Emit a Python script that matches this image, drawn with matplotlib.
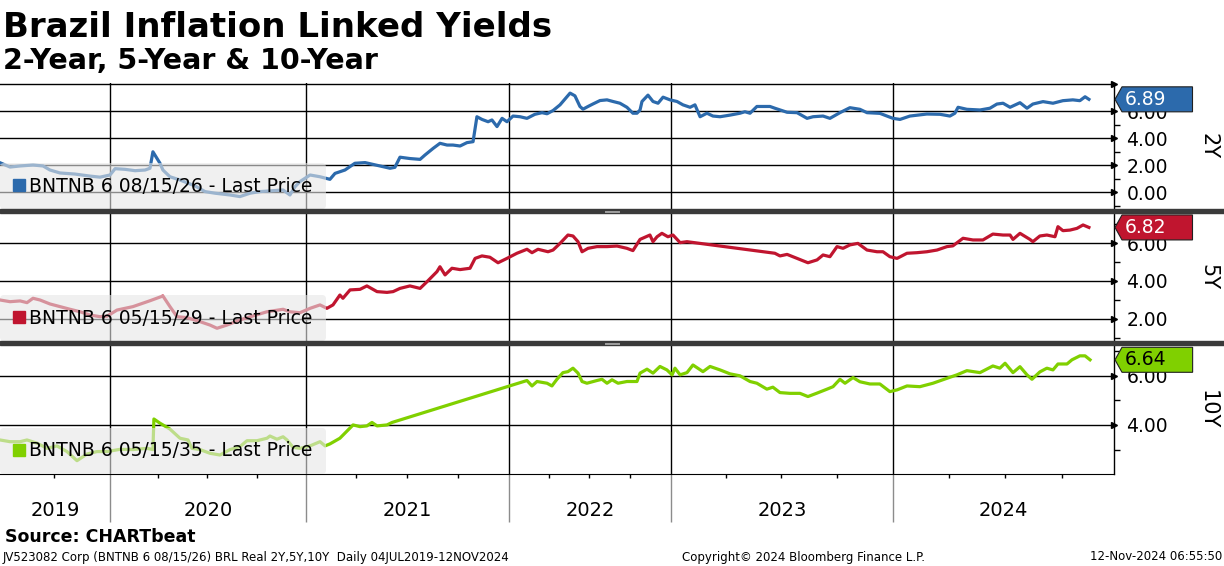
import numpy as np
import matplotlib
matplotlib.use("Agg")
import matplotlib.pyplot as plt
from matplotlib.path import Path
from matplotlib.lines import Line2D
from matplotlib.patches import Rectangle
from matplotlib.ticker import FixedLocator, FuncFormatter

# ---------------- data (decimal years, yields %) ----------------
y2_dates = [2019.507, 2019.552, 2019.597, 2019.655, 2019.700, 2019.731, 2019.776, 2019.843, 2019.910, 2019.955,
            2020.000, 2020.026, 2020.077, 2020.128, 2020.179, 2020.204, 2020.219, 2020.240, 2020.255, 2020.270,
            2020.306, 2020.357, 2020.434, 2020.485, 2020.536, 2020.612, 2020.663, 2020.714, 2020.765, 2020.816,
            2020.883, 2020.918, 2020.944, 2020.969, 2021.020, 2021.069, 2021.118, 2021.143, 2021.192, 2021.241,
            2021.291, 2021.365, 2021.414, 2021.438, 2021.463, 2021.512, 2021.562, 2021.586, 2021.626, 2021.660,
            2021.695, 2021.724, 2021.759, 2021.793, 2021.823, 2021.842, 2021.867, 2021.897, 2021.916, 2021.941,
            2021.966, 2021.990, 2022.025, 2022.068, 2022.111, 2022.160, 2022.204, 2022.235, 2022.272, 2022.315,
            2022.377, 2022.407, 2022.438, 2022.457, 2022.488, 2022.519, 2022.562, 2022.605, 2022.642, 2022.685,
            2022.728, 2022.765, 2022.790, 2022.809, 2022.821, 2022.858, 2022.889, 2022.920, 2022.951, 2022.994,
            2023.027, 2023.054, 2023.086, 2023.108, 2023.131, 2023.162, 2023.189, 2023.221, 2023.266, 2023.311,
            2023.333, 2023.356, 2023.387, 2023.446, 2023.468, 2023.523, 2023.568, 2023.613, 2023.640, 2023.685,
            2023.716, 2023.761, 2023.806, 2023.851, 2023.883, 2023.941, 2024.000, 2024.031, 2024.075, 2024.150,
            2024.208, 2024.252, 2024.274, 2024.288, 2024.327, 2024.385, 2024.429, 2024.460, 2024.487, 2024.518,
            2024.562, 2024.593, 2024.619, 2024.664, 2024.708, 2024.752, 2024.796, 2024.827, 2024.850, 2024.867]
y2_vals = [2.19, 1.87, 1.95, 2.02, 1.95, 1.65, 1.43, 1.35, 1.20, 1.12,
           1.28, 1.75, 1.70, 1.60, 1.65, 1.78, 3.00, 2.50, 2.15, 1.65,
           1.15, 0.91, 0.47, 0.05, -0.07, -0.20, -0.32, -0.07, 0.05, 0.10,
           0.17, -0.20, 0.41, 0.79, 1.28, 1.15, 0.96, 1.40, 1.65, 2.15,
           2.20, 1.95, 1.78, 1.85, 2.60, 2.50, 2.44, 2.76, 3.25, 3.63,
           3.50, 3.50, 3.43, 3.68, 3.75, 5.60, 5.40, 5.23, 5.36, 4.87,
           5.48, 5.23, 5.65, 5.60, 5.48, 5.78, 5.90, 5.82, 6.06, 6.48,
           7.35, 7.15, 6.36, 6.16, 6.36, 6.55, 6.80, 6.85, 6.73, 6.60,
           6.30, 5.86, 5.86, 6.10, 6.73, 7.20, 6.73, 6.60, 7.05, 6.85,
           6.73, 6.48, 6.30, 6.48, 5.60, 5.86, 5.65, 5.60, 5.72, 5.86,
           5.97, 5.86, 6.36, 6.36, 6.23, 5.93, 5.90, 5.48, 5.60, 5.65,
           5.48, 5.90, 6.27, 6.15, 5.90, 5.85, 5.48, 5.40, 5.65, 5.80,
           5.78, 5.65, 5.86, 6.30, 6.15, 6.10, 6.23, 6.54, 6.60, 6.30,
           6.64, 6.23, 6.54, 6.72, 6.60, 6.79, 6.85, 6.79, 7.08, 6.89]

y5_dates = [2019.507, 2019.552, 2019.597, 2019.628, 2019.655, 2019.686, 2019.731, 2019.776, 2019.821, 2019.866,
            2019.910, 2019.955, 2019.987, 2020.036, 2020.117, 2020.204, 2020.270, 2020.306, 2020.342, 2020.393,
            2020.459, 2020.510, 2020.546, 2020.597, 2020.663, 2020.730, 2020.801, 2020.883, 2020.918, 2020.969,
            2021.020, 2021.069, 2021.103, 2021.133, 2021.167, 2021.182, 2021.217, 2021.266, 2021.300, 2021.350,
            2021.399, 2021.429, 2021.463, 2021.512, 2021.562, 2021.596, 2021.645, 2021.660, 2021.685, 2021.719,
            2021.759, 2021.808, 2021.833, 2021.867, 2021.906, 2021.946, 2021.990, 2022.049, 2022.111, 2022.142,
            2022.179, 2022.241, 2022.272, 2022.315, 2022.364, 2022.395, 2022.426, 2022.451, 2022.488, 2022.543,
            2022.605, 2022.667, 2022.728, 2022.765, 2022.809, 2022.870, 2022.889, 2022.914, 2022.944, 2022.981,
            2023.009, 2023.041, 2023.072, 2023.468, 2023.491, 2023.523, 2023.568, 2023.617, 2023.658, 2023.685,
            2023.716, 2023.748, 2023.775, 2023.806, 2023.842, 2023.883, 2023.928, 2023.955, 2023.986, 2024.018,
            2024.062, 2024.106, 2024.150, 2024.195, 2024.239, 2024.265, 2024.310, 2024.354, 2024.398, 2024.442,
            2024.487, 2024.518, 2024.531, 2024.562, 2024.606, 2024.619, 2024.650, 2024.681, 2024.717, 2024.730,
            2024.752, 2024.783, 2024.814, 2024.841, 2024.867]
y5_vals = [3.00, 2.91, 2.95, 2.86, 3.09, 3.00, 2.79, 2.65, 2.51, 2.38,
           2.21, 2.12, 2.15, 2.47, 2.65, 2.96, 3.21, 2.65, 2.12, 2.07,
           1.86, 1.68, 1.51, 1.68, 1.95, 2.16, 2.38, 2.51, 2.38, 2.33,
           2.56, 2.74, 2.56, 2.74, 3.26, 3.09, 3.53, 3.56, 3.74, 3.44,
           3.40, 3.44, 3.61, 3.74, 3.61, 3.96, 4.49, 4.75, 4.32, 4.67,
           4.60, 4.67, 5.19, 5.32, 5.25, 4.96, 5.19, 5.46, 5.67, 5.49,
           5.67, 5.54, 5.63, 5.98, 6.42, 6.37, 6.07, 5.54, 5.72, 5.81,
           5.81, 5.84, 5.72, 5.60, 6.19, 6.42, 6.07, 6.33, 6.51, 6.33,
           6.42, 6.02, 6.07, 5.46, 5.32, 5.40, 5.19, 4.96, 5.11, 5.37,
           5.28, 5.81, 5.72, 5.90, 5.98, 5.63, 5.54, 5.54, 5.28, 5.19,
           5.46, 5.49, 5.54, 5.63, 5.81, 5.85, 6.25, 6.16, 6.16, 6.47,
           6.42, 6.42, 6.19, 6.51, 6.19, 6.07, 6.37, 6.42, 6.33, 6.86,
           6.65, 6.68, 6.77, 6.95, 6.82]

y10_dates = [2019.507, 2019.552, 2019.597, 2019.628, 2019.673, 2019.718, 2019.762, 2019.807, 2019.852, 2019.897,
             2019.942, 2019.987, 2020.051, 2020.117, 2020.189, 2020.219, 2020.224, 2020.255, 2020.306, 2020.357,
             2020.398, 2020.418, 2020.459, 2020.510, 2020.561, 2020.612, 2020.663, 2020.699, 2020.750, 2020.801,
             2020.816, 2020.852, 2020.883, 2020.903, 2020.934, 2020.969, 2021.020, 2021.069, 2021.094, 2021.118,
             2021.167, 2021.232, 2021.266, 2021.300, 2021.325, 2021.350, 2021.399, 2021.424, 2022.111, 2022.142,
             2022.173, 2022.235, 2022.265, 2022.296, 2022.333, 2022.364, 2022.395, 2022.426, 2022.451, 2022.481,
             2022.543, 2022.574, 2022.605, 2022.636, 2022.673, 2022.728, 2022.790, 2022.809, 2022.852, 2022.889,
             2022.932, 2022.975, 2023.005, 2023.018, 2023.041, 2023.072, 2023.099, 2023.144, 2023.176, 2023.221,
             2023.266, 2023.311, 2023.356, 2023.387, 2023.432, 2023.459, 2023.491, 2023.536, 2023.581, 2023.617,
             2023.658, 2023.703, 2023.730, 2023.761, 2023.784, 2023.820, 2023.851, 2023.896, 2023.941, 2023.986,
             2024.018, 2024.062, 2024.119, 2024.177, 2024.239, 2024.283, 2024.327, 2024.385, 2024.442, 2024.473,
             2024.496, 2024.531, 2024.562, 2024.593, 2024.615, 2024.650, 2024.681, 2024.708, 2024.730, 2024.770,
             2024.792, 2024.827, 2024.850, 2024.872]
y10_vals = [3.39, 3.32, 3.32, 3.39, 3.26, 3.05, 3.15, 2.92, 2.55, 2.82,
            2.92, 2.92, 3.01, 3.00, 3.05, 3.00, 4.24, 4.07, 3.83, 3.46,
            3.39, 3.05, 3.00, 2.85, 2.78, 3.00, 3.12, 3.36, 3.36, 3.46,
            3.55, 3.42, 3.52, 3.39, 3.09, 3.05, 3.15, 3.32, 3.15, 3.23,
            3.46, 4.00, 3.93, 3.96, 4.10, 3.96, 4.00, 4.10, 5.80, 5.58,
            5.76, 5.69, 5.58, 5.85, 6.12, 6.16, 6.30, 6.10, 5.76, 5.69,
            5.80, 5.85, 5.69, 5.83, 5.69, 5.76, 5.76, 6.10, 6.26, 6.10,
            6.37, 6.23, 6.03, 6.30, 6.03, 6.12, 6.43, 6.16, 6.37, 6.23,
            6.07, 5.99, 5.76, 5.69, 5.45, 5.53, 5.31, 5.28, 5.28, 5.15,
            5.29, 5.45, 5.55, 5.85, 5.69, 5.92, 5.75, 5.66, 5.66, 5.35,
            5.42, 5.58, 5.55, 5.69, 5.89, 6.03, 6.20, 6.12, 6.39, 6.30,
            6.50, 6.12, 6.36, 6.03, 5.85, 6.15, 6.30, 6.23, 6.47, 6.47,
            6.64, 6.80, 6.80, 6.64]

series_labels = ["BNTNB 6 08/15/26 - Last Price",
                 "BNTNB 6 05/15/29 - Last Price",
                 "BNTNB 6 05/15/35 - Last Price"]
panel_names = ["2Y", "5Y", "10Y"]
last_values = [6.89, 6.82, 6.64]
year_starts = [2020, 2021, 2022, 2023, 2024]
year_labels = ["2019", "2020", "2021", "2022", "2023", "2024"]
x_start, x_end = 2019.507, 2024.978

# ---------------- style ----------------
plt.rcParams["font.family"] = ["DejaVu Sans"]
colors = ["#2c6aac", "#c0152f", "#80d000"]
box_text_colors = ["white", "white", "black"]

W, H = 1224, 566
fig = plt.figure(figsize=(W / 100, H / 100), dpi=100)
fig.patch.set_facecolor("white")

# Bloomberg-like compressed calendar x-axis (piecewise linear)
BRK_T = [2018.0, 2019.507, 2020.0, 2021.0, 2022.0, 2023.0, 2024.0, 2026.0]
BRK_P = [-332.0, 0.0, 110.0, 306.0, 509.0, 671.0, 893.0, 1345.0]


def fwd(t):
    return np.interp(t, BRK_T, BRK_P)


def inv(p):
    return np.interp(p, BRK_P, BRK_T)


def pennant(x0, y0, width, height, mutation_size):
    yc = y0 + height / 2.0
    hh = 12.5
    verts = [(x0 - 10, yc), (x0 - 3, yc + hh), (x0 + width + 26, yc + hh),
             (x0 + width + 26, yc - hh), (x0 - 3, yc - hh), (x0 - 10, yc)]
    codes = [Path.MOVETO] + [Path.LINETO] * 4 + [Path.CLOSEPOLY]
    return Path(verts, codes)


panels = [
    dict(top=83, bot=209, ylim=(-1.24, 8.1), maj=[0, 2, 4, 6, 8], mnr=[-1, 1, 3, 5, 7], hide=[8]),
    dict(top=213, bot=341, ylim=(0.84, 7.58), maj=[2, 4, 6], mnr=[1, 3, 5, 7], hide=[]),
    dict(top=345, bot=474, ylim=(2.01, 7.24), maj=[4, 6], mnr=[3, 5, 7], hide=[]),
]
all_dates = [y2_dates, y5_dates, y10_dates]
all_vals = [y2_vals, y5_vals, y10_vals]

axes = []
for i, p in enumerate(panels):
    ax = fig.add_axes([0, 1 - p["bot"] / H, 1114 / W, (p["bot"] - p["top"]) / H])
    axes.append(ax)
    ax.set_xscale("function", functions=(fwd, inv))
    ax.set_xlim(x_start, x_end)
    ax.set_ylim(*p["ylim"])
    ax.plot(all_dates[i], all_vals[i], color=colors[i], lw=2.3, zorder=3,
            solid_joinstyle="round")
    ax.set_axisbelow(True)
    for s in ["top", "left", "bottom"]:
        ax.spines[s].set_visible(False)
    ax.spines["right"].set_color("black")
    ax.spines["right"].set_linewidth(1.0)

    ax.xaxis.set_major_locator(FixedLocator(year_starts))
    ax.yaxis.set_major_locator(FixedLocator(p["maj"]))
    ax.yaxis.set_minor_locator(FixedLocator(p["mnr"]))
    hide = p["hide"]
    ax.yaxis.set_major_formatter(FuncFormatter(
        lambda v, pos, hide=hide: "" if any(abs(v - h) < 1e-6 for h in hide) else f"{v:.2f}"))
    ax.yaxis.tick_right()
    ax.tick_params(axis="y", which="major", length=0, pad=9, labelsize=13.5)
    ax.tick_params(axis="y", which="minor", length=4, width=1, color="black", direction="out")
    ax.grid(True, which="major", axis="both", color="black", lw=1.0)

    # arrow heads at the gridline ends
    ax.plot(np.ones(len(p["maj"])), p["maj"], ls="none", marker=">", ms=5, color="black",
            transform=ax.get_yaxis_transform(), clip_on=False, zorder=4)

    # panel name
    ax.text(1208 / 1114, 0.5, panel_names[i], transform=ax.transAxes, rotation=270,
            ha="center", va="center", fontsize=15)

    # legend
    h = Line2D([], [], marker="s", ls="none", color=colors[i], markersize=8)
    ax.legend([h], [series_labels[i]], loc="lower left", bbox_to_anchor=(0, 0),
              borderaxespad=0, frameon=True, fancybox=True, framealpha=0.6,
              facecolor="#e6e6e6", edgecolor="none", fontsize=13.5, borderpad=0.72,
              handletextpad=0.23, handlelength=0.6)

    # last value pennant
    ax.annotate(f"{last_values[i]:.2f}", xy=(1, last_values[i]),
                xycoords=("axes fraction", "data"), xytext=(11, 0), textcoords="offset pixels",
                ha="left", va="center", fontsize=13.5, color=box_text_colors[i],
                bbox=dict(boxstyle=pennant, fc=colors[i], ec="#202020", lw=0.8),
                annotation_clip=False, zorder=6)

    if i < 2:
        ax.tick_params(axis="x", which="both", length=0, labelbottom=False)

# bottom axis details
ax = axes[2]
ax.spines["bottom"].set_visible(True)
ax.spines["bottom"].set_color("black")
quarters = [y + q for y in range(2019, 2025) for q in (0.247, 0.496, 0.748)]
quarters = [q for q in quarters if x_start < q < x_end]
ax.xaxis.set_minor_locator(FixedLocator(quarters))
ax.tick_params(axis="x", which="major", length=34.5, width=1, color="#8c8c8c",
               direction="out", labelbottom=False)
ax.tick_params(axis="x", which="minor", length=3, width=1, color="black", direction="out")
bounds = [x_start] + year_starts + [x_end]
for k, lab in enumerate(year_labels):
    mid = inv((fwd(bounds[k]) + fwd(bounds[k + 1])) / 2.0)
    ax.annotate(lab, xy=(mid, 0), xycoords=("data", "axes fraction"), xytext=(0, -37),
                textcoords="offset pixels", ha="center", va="center", fontsize=14,
                annotation_clip=False)

# panel separators
for top in (209, 341):
    fig.add_artist(Rectangle((0, 1 - (top + 4) / H), 1, 4 / H, transform=fig.transFigure,
                             color="#3a3a3a", zorder=10))
    for dy in (1.7, 3.3):
        fig.add_artist(Line2D([605 / W, 619 / W], [1 - (top + dy) / H] * 2,
                              transform=fig.transFigure, color="#a0a0a0", lw=0.7, zorder=11))

# titles and footer
fig.text(3 / W, 1 - 37 / H, "Brazil Inflation Linked Yields", fontsize=24.5, weight="bold",
         va="baseline", ha="left")
fig.text(3 / W, 1 - 69 / H, "2-Year, 5-Year & 10-Year", fontsize=20.5, weight="bold",
         va="baseline", ha="left")
fig.text(5 / W, 1 - 536.5 / H, "Source: CHARTbeat", fontsize=12.5, weight="bold",
         va="center", ha="left")
fig.text(3 / W, 1 - 557 / H,
         "JV523082 Corp (BNTNB 6 08/15/26) BRL Real 2Y,5Y,10Y  Daily 04JUL2019-12NOV2024",
         fontsize=8.5, va="center", ha="left")
fig.text(682 / W, 1 - 557 / H, "Copyright\u00a9 2024 Bloomberg Finance L.P.", fontsize=8.5,
         va="center", ha="left")
fig.text(1222 / W, 1 - 557 / H, "12-Nov-2024 06:55:50", fontsize=8.5, va="center", ha="right")

fig.savefig("out.png", dpi=100, facecolor="white")
